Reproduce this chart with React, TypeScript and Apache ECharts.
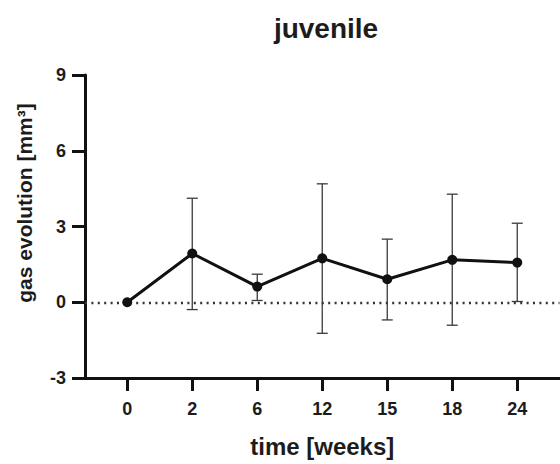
import React, { useEffect, useRef } from "react";
import * as echarts from "echarts";

const weeks = ["0", "2", "6", "12", "15", "18", "24"];
const means = [0, 1.93, 0.62, 1.74, 0.91, 1.68, 1.57];
const lows = [0, -0.29, 0.07, -1.23, -0.7, -0.91, 0.03];
const highs = [0, 4.12, 1.11, 4.69, 2.5, 4.28, 3.13];
const yTicks = [-3, 0, 3, 6, 9];

const FONT = "'Liberation Sans', Arial, sans-serif";
const TXT = "#1c1c1c";

export default function App() {
  const ref = useRef<HTMLDivElement>(null);
  useEffect(() => {
    if (!ref.current) return;
    const chart = echarts.init(ref.current, null, { renderer: "svg" });
    const idx = weeks.map((_, i) => i);
    chart.setOption({
      animation: false,
      backgroundColor: "#ffffff",
      title: {
        text: "juvenile",
        left: 321,
        top: 9,
        textAlign: "center",
        textStyle: { fontFamily: FONT, fontSize: 28, fontWeight: "bold", color: TXT },
      },
      graphic: [
        {
          type: "text",
          x: 24,
          y: 203,
          rotation: Math.PI / 2,
          style: {
            text: "gas evolution [mm³]",
            fontFamily: FONT,
            fontSize: 21,
            fontWeight: "bold",
            fill: TXT,
            align: "center",
            verticalAlign: "middle",
          },
        },
      ],
      grid: { left: 85, right: 0.5, top: 75, bottom: 86, containLabel: false, outerBoundsMode: "none" },
      xAxis: {
        type: "value",
        min: -0.65,
        max: 6.65,
        name: "time [weeks]",
        nameLocation: "middle",
        nameGap: 56,
        nameTextStyle: { fontFamily: FONT, fontSize: 24, fontWeight: "bold", color: TXT },
        axisLine: { show: true, onZero: false, lineStyle: { color: "#111", width: 3 } },
        axisTick: { show: true, length: 13, customValues: idx, lineStyle: { color: "#111", width: 3 } },
        axisLabel: {
          customValues: idx,
          formatter: (v: number) => weeks[Math.round(v)] ?? "",
          fontFamily: FONT,
          fontSize: 18,
          fontWeight: "bold",
          color: TXT,
          margin: 22,
        },
        splitLine: { show: false },
      },
      yAxis: {
        type: "value",
        min: yTicks[0],
        max: yTicks[yTicks.length - 1],
        interval: 3,
        axisLine: { show: true, onZero: false, lineStyle: { color: "#111", width: 3 } },
        axisTick: { show: true, length: 13, lineStyle: { color: "#111", width: 3 } },
        axisLabel: {
          fontFamily: FONT,
          fontSize: 18,
          fontWeight: "bold",
          color: TXT,
          margin: 19,
        },
        splitLine: { show: false },
      },
      series: [
        {
          type: "custom",
          z: 3,
          renderItem: (params: any, api: any) => {
            const x = api.value(0);
            const top = api.coord([x, api.value(2)]);
            const bot = api.coord([x, api.value(1)]);
            const hw = 5.5;
            const style = { stroke: "#3a3a3a", lineWidth: 1.3 };
            return {
              type: "group",
              children: [
                { type: "line", shape: { x1: top[0], y1: top[1], x2: bot[0], y2: bot[1] }, style },
                { type: "line", shape: { x1: top[0] - hw, y1: top[1], x2: top[0] + hw, y2: top[1] }, style },
                { type: "line", shape: { x1: bot[0] - hw, y1: bot[1], x2: bot[0] + hw, y2: bot[1] }, style },
              ],
            };
          },
          encode: { x: 0, y: [1, 2] },
          data: idx.slice(1).map((i) => [i, lows[i], highs[i]]),
        },
        {
          type: "line",
          z: 4,
          data: idx.map((i) => [i, means[i]]),
          symbol: "circle",
          symbolSize: 10,
          itemStyle: { color: "#111" },
          lineStyle: { color: "#111", width: 3 },
          markLine: {
            silent: true,
            symbol: "none",
            label: { show: false },
            lineStyle: { color: "#333", width: 2.4, type: [2, 4.4] },
            data: [{ yAxis: 0 }],
            z: 1,
          },
        },
      ],
    });
    return () => chart.dispose();
  }, []);
  return (
    <div
      ref={ref}
      style={{ position: "fixed", left: 0, top: 0, width: 560, height: 464 }}
    />
  );
}
